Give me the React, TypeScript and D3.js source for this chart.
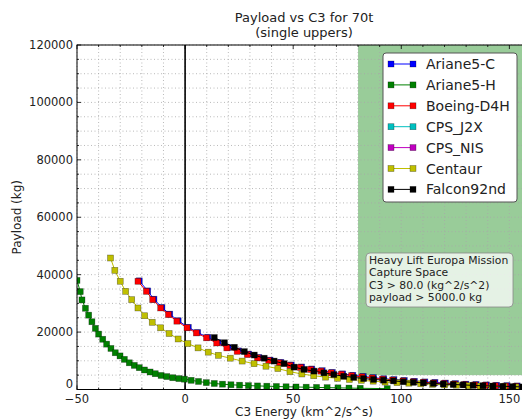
import React from "react";
import * as d3 from "d3";

// ---- data ----
const seriesNames = ["Ariane5-C", "Ariane5-H", "Boeing-D4H", "CPS_J2X", "CPS_NIS", "Centaur", "Falcon92nd"];
const seriesColors = ["#0000ff", "#008000", "#ff0000", "#00bfbf", "#bf00bf", "#bfbf00", "#000000"];

const ariane5C_c3 = [-21.2, -17.3, -14.4, -10.7, -7.1, -3.2, 1.5, 5.8, 10.5, 15.2, 19.9, 24.7, 29.4, 34.1, 39.3, 44.3, 49.1, 53.9, 58.6, 63.4, 68.1, 72.9, 77.6, 82.4, 87.1, 91.9, 96.6, 101.4, 106.1, 110.9, 115.6, 120.4, 125.1, 129.9, 134.6, 139.4, 144.1, 148.9, 153.6, 158.4];
const ariane5C_p = [37.85, 34.35, 31.45, 28.55, 26.25, 23.95, 21.65, 19.85, 18.15, 16.35, 14.65, 13.45, 12.35, 11.15, 10.25, 9.45, 8.55, 7.85, 7.15, 6.55, 5.95, 5.45, 4.95, 4.55, 4.15, 3.75, 3.45, 3.15, 2.85, 2.65, 2.45, 2.25, 2.05, 1.85, 1.75, 1.6, 1.45, 1.35, 1.25, 1.15];

const ariane5H_c3 = [-50, -48.5, -47.7, -46.1, -44.6, -43.1, -41.5, -40, -38.1, -36.3, -34.3, -32.3, -30.1, -28.1, -25.8, -23.5, -21.2, -18.8, -16.2, -13.8, -11.1, -8.5, -5.7, -2.9, -0.3, 2.8, 6.2, 9.8, 13.5, 17.3, 21.2, 25.2, 29.3, 33.5, 37.8, 42.2, 46.7, 51.3, 56, 60.8, 65.7, 70.7, 75.8, 81, 93.5];
const ariane5H_p = [38.0, 34.1, 31.2, 28.3, 25.9, 23.6, 21.3, 19.3, 17.5, 15.8, 14.3, 12.8, 11.7, 10.5, 9.3, 8.4, 7.6, 6.8, 6.1, 5.5, 4.9, 4.5, 4.1, 3.8, 3.6, 3.2, 2.8, 2.4, 2.1, 1.85, 1.65, 1.5, 1.35, 1.25, 1.15, 1.05, 0.95, 0.88, 0.8, 0.72, 0.65, 0.58, 0.5, 0.42, 0.3];

const boeingD4H_c3 = [-21.8, -17.9, -15, -11.3, -7.7, -3.8, 0.9, 5.2, 9.9, 14.6, 19.3, 24.1, 28.8, 33.5, 38.7, 43.7, 48.5, 53.3, 58, 62.8, 67.5, 72.3, 77, 81.8, 86.5, 91.3, 96, 100.8, 105.5, 110.3, 115, 119.8, 124.5, 129.3, 134, 138.8, 143.5, 148.3, 153, 157.8];
const boeingD4H_p = [37.7, 34.2, 31.3, 28.4, 26.1, 23.8, 21.5, 19.7, 18.0, 16.2, 14.5, 13.3, 12.2, 11.0, 10.1, 9.3, 8.4, 7.7, 7.0, 6.4, 5.8, 5.3, 4.8, 4.4, 4.0, 3.6, 3.3, 3.0, 2.7, 2.5, 2.3, 2.1, 1.9, 1.7, 1.6, 1.45, 1.3, 1.2, 1.1, 1.0];

const cpsJ2X_c3: number[] = [];
const cpsJ2X_p: number[] = [];
const cpsNIS_c3: number[] = [];
const cpsNIS_p: number[] = [];

const centaur_c3 = [-34.5, -32.5, -30, -27.5, -24.7, -21.8, -18.7, -15.2, -11.3, -7.4, -3.2, 1.3, 6, 10.7, 15.4, 20.9, 26.4, 31.9, 37.4, 42.9, 48.5, 54, 59.5, 65, 70.5, 76, 81.5, 87, 92.5, 98, 103.5, 109, 114.5, 120, 125.5, 131, 136.5, 142, 147.5, 153, 158.5];
const centaur_p = [45.8, 41.5, 37.7, 34.2, 31.3, 28.4, 25.7, 23.4, 21.5, 19.5, 17.6, 16.0, 14.5, 13.0, 11.9, 10.9, 9.9, 9.0, 8.1, 7.3, 6.2, 5.4, 4.8, 4.3, 3.9, 3.5, 3.2, 2.9, 2.6, 2.4, 2.2, 2.0, 1.8, 1.6, 1.5, 1.35, 1.2, 1.1, 1.0, 0.9, 0.8];

const falcon_c3 = [13.5, 18.2, 22.8, 27.4, 32, 36.6, 41.2, 45.8, 50.4, 55, 59.6, 64.2, 68.8, 73.4, 78, 82.6, 87.2, 91.8, 96.4, 101, 105.6, 110.2, 114.8, 119.4, 124, 128.6, 133.2, 137.8, 142.4, 147, 151.6, 156.2, 160.8];
const falcon_p = [18.1, 16.3, 14.7, 13.2, 12.0, 10.9, 9.9, 9.0, 7.8, 7.0, 6.4, 5.8, 5.2, 4.6, 4.2, 3.8, 3.5, 3.25, 3.0, 2.7, 2.5, 2.3, 2.1, 1.9, 1.75, 1.6, 1.45, 1.3, 1.2, 1.1, 1.0, 0.9, 0.8];

const seriesC3 = [ariane5C_c3, ariane5H_c3, boeingD4H_c3, cpsJ2X_c3, cpsNIS_c3, centaur_c3, falcon_c3];
const seriesP = [ariane5C_p, ariane5H_p, boeingD4H_p, cpsJ2X_p, cpsNIS_p, centaur_p, falcon_p];

const xTicks = [-50, 0, 50, 100, 150];
const yTicks = [0, 20000, 40000, 60000, 80000, 100000, 120000];
const captureC3 = 80;
const capturePayload = 5000;
const annotationLines = ["Heavy Lift Europa Mission", "Capture Space", "C3 > 80.0 (kg^2/s^2)", "payload > 5000.0 kg"];

// ---- layout ----
const W = 522, H = 420;
const L = 77, R = 531, T = 45, B = 389.5;
const font = "'DejaVu Sans', sans-serif";

export default function App() {
  const x = d3.scaleLinear().domain([-50, 160]).range([L, R]);
  const y = d3.scaleLinear().domain([0, 120000]).range([B, T]);
  const minorX = d3.range(-50, 161, 10);
  const minorY = d3.range(0, 120001, 5000);
  const line = d3.line<[number, number]>().x(d => x(d[0])).y(d => y(d[1] * 1000));
  const ms = 6;

  const legX = 383, legY = 53, legW = 134, legH = 149;
  const legRow = (i: number) => 64 + i * 20.9;

  return (
    <svg width={W} height={H} style={{ position: "absolute", left: 0, top: 0, background: "#fff" }} fontFamily={font}>
      <defs>
        <clipPath id="plotclip">
          <rect x={L} y={T} width={R - L} height={B - T} />
        </clipPath>
      </defs>
      <rect x={0} y={0} width={W} height={H} fill="#fff" />
      {/* capture region */}
      <rect x={x(captureC3)} y={T} width={R - x(captureC3)} height={y(capturePayload) - T} fill="#99cc99" />
      {/* grid */}
      <g stroke="#a8a8a8" strokeWidth={0.8} strokeDasharray="1,2.5">
        {minorX.map(v => (
          <line key={"gx" + v} x1={x(v)} x2={x(v)} y1={T} y2={B} />
        ))}
        {minorY.map(v => (
          <line key={"gy" + v} x1={L} x2={R} y1={y(v)} y2={y(v)} />
        ))}
      </g>
      {/* zero line */}
      <line x1={x(0)} x2={x(0)} y1={T} y2={B} stroke="#000" strokeWidth={1.6} />
      {/* series */}
      <g clipPath="url(#plotclip)">
        {seriesNames.map((name, i) => {
          const pts: [number, number][] = seriesC3[i].map((c, j) => [c, seriesP[i][j]]);
          return (
            <g key={name}>
              <path d={line(pts) || ""} fill="none" stroke={seriesColors[i]} strokeWidth={1} />
              {pts.map((p, j) => (
                <rect key={j} x={x(p[0]) - ms / 2} y={y(p[1] * 1000) - ms / 2} width={ms} height={ms}
                  fill={seriesColors[i]} stroke="#000" strokeOpacity={0.45} strokeWidth={0.6} />
              ))}
            </g>
          );
        })}
      </g>
      {/* frame */}
      <rect x={L} y={T} width={R - L} height={B - T} fill="none" stroke="#000" strokeWidth={1} />
      {/* ticks */}
      <g stroke="#000" strokeWidth={0.8}>
        {minorX.map(v => {
          const len = xTicks.includes(v) ? 4 : 2;
          return (
            <g key={"tx" + v}>
              <line x1={x(v)} x2={x(v)} y1={B} y2={B - len} />
              <line x1={x(v)} x2={x(v)} y1={T} y2={T + len} />
            </g>
          );
        })}
        {minorY.map(v => {
          const len = yTicks.includes(v) ? 4 : 2;
          return <line key={"ty" + v} x1={L} x2={L + len} y1={y(v)} y2={y(v)} />;
        })}
      </g>
      {/* tick labels */}
      <g fontSize={11.5} fill="#222">
        {xTicks.map(v => (
          <text key={"xl" + v} x={x(v)} y={B + 13.5} textAnchor="middle">
            {v < 0 ? "\u2212" + Math.abs(v) : String(v)}
          </text>
        ))}
        {yTicks.map(v => (
          <text key={"yl" + v} x={L - 4} y={y(v) + (v === 0 ? -2 : 4)} textAnchor="end">{v}</text>
        ))}
      </g>
      {/* axis labels */}
      <text x={(L + R) / 2} y={416} textAnchor="middle" fontSize={12} fill="#222">C3 Energy (km^2/s^s)</text>
      <text transform={`translate(21,${(T + B) / 2}) rotate(-90)`} textAnchor="middle" fontSize={12} fill="#222">Payload (kg)</text>
      {/* title */}
      <text x={(L + R) / 2} y={22} textAnchor="middle" fontSize={13} fill="#222">Payload vs C3 for 70t</text>
      <text x={(L + R) / 2} y={37} textAnchor="middle" fontSize={13} fill="#222">(single uppers)</text>
      {/* legend */}
      <rect x={legX} y={legY} width={legW} height={legH} rx={3} fill="#fff" stroke="#555" strokeWidth={1} />
      {seriesNames.map((name, i) => (
        <g key={"leg" + name}>
          <line x1={391} x2={413} y1={legRow(i)} y2={legRow(i)} stroke={seriesColors[i]} strokeWidth={1} />
          {[391, 413].map(cx => (
            <rect key={cx} x={cx - 3} y={legRow(i) - 3} width={6} height={6} fill={seriesColors[i]}
              stroke="#000" strokeOpacity={0.45} strokeWidth={0.6} />
          ))}
          <text x={426} y={legRow(i) + 5} fontSize={14} fill="#222">{name}</text>
        </g>
      ))}
      {/* annotation */}
      <rect x={366} y={253} width={147} height={54} rx={4} fill="#ffffff" fillOpacity={0.75} stroke="#888" strokeWidth={0.8} />
      {annotationLines.map((t, i) => (
        <text key={"an" + i} x={369} y={264 + i * 12.4} fontSize={10.8} fill="#222">{t}</text>
      ))}
    </svg>
  );
}
